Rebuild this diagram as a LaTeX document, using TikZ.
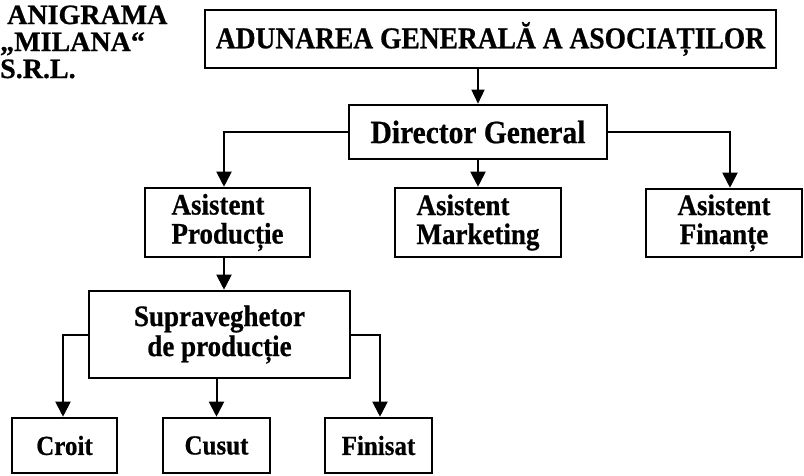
\documentclass[tikz,border=0pt]{standalone}
\usepackage{fontspec}
\usepackage{graphicx}
\setmainfont{Liberation Serif}[BoldFeatures={FakeBold=0.7}]
\usetikzlibrary{arrows.meta}
% slightly taller lettering
\newcommand{\tall}[1]{\scalebox{1}[1.1]{#1}}
\begin{document}
\begin{tikzpicture}[x=1pt,y=-1pt,
  box/.style={draw,line width=2.6pt,inner sep=0pt,font=\bfseries},
  arr/.style={line width=2pt,-{Triangle[length=15pt,width=15pt]}},
  thinarr/.style={line width=1.5pt,-{Triangle[length=14pt,width=13pt]}},
  title/.style={anchor=base west,inner sep=0pt,font=\fontsize{28}{30}\selectfont\bfseries}]
\useasboundingbox (0,0) rectangle (804,475);

% company heading
\node[title] (t1) at (7,24) {ANIGRAMA};
\node[title] (t2) at (0,51) {„MILANA“};
\node[title] (t3) at (0,78) {S.R.L.};

% boxes
\node[box,minimum width=571pt,minimum height=58pt,font=\fontsize{27.5}{29}\selectfont\bfseries]
  (aga) at (490.5,39) {\tall{ADUNAREA GENERALĂ A ASOCIAȚILOR}};
\node[box,minimum width=258pt,minimum height=54pt,font=\fontsize{29.5}{31}\selectfont\bfseries]
  (dir) at (478,132) {\tall{Director General}};
\node[box,minimum width=165pt,minimum height=69pt,align=left,font=\fontsize{27}{29}\selectfont\bfseries]
  (prod) at (227.5,222.5) {\tall{Asistent}\\\tall{Producție}};
\node[box,minimum width=166pt,minimum height=69pt,align=left,font=\fontsize{27}{29}\selectfont\bfseries]
  (mkt) at (478,222.5) {\tall{Asistent}\\\tall{Marketing}};
\node[box,minimum width=156pt,minimum height=68pt,align=center,font=\fontsize{27}{29}\selectfont\bfseries]
  (fin) at (724,223) {\tall{Asistent}\\\tall{Finanțe}};
\node[box,minimum width=261pt,minimum height=87pt,align=center,font=\fontsize{27}{30}\selectfont\bfseries]
  (sup) at (219.5,334.5) {\tall{Supraveghetor}\\\tall{de producție}};
\node[box,minimum width=105pt,minimum height=55pt,font=\fontsize{25}{26}\selectfont\bfseries]
  (croit) at (64.5,445.5) {\tall{Croit}};
\node[box,minimum width=107pt,minimum height=55pt,font=\fontsize{25}{26}\selectfont\bfseries]
  (cusut) at (216.5,445.5) {\tall{Cusut}};
\node[box,minimum width=107pt,minimum height=55pt,font=\fontsize{25}{26}\selectfont\bfseries]
  (finis) at (378.5,445.5) {\tall{Finisat}};

% connectors
\draw[thinarr] (dir.north |- aga.south) -- (dir.north);
\draw[arr] (dir.west) -| ([xshift=-3.5pt]prod.north);
\draw[arr] (dir.south) -- (mkt.north);
\draw[arr] (dir.east) -| ([xshift=6pt]fin.north);
\draw[arr] ([xshift=-3.5pt]prod.south) -- ([xshift=-3.5pt]prod.south |- sup.north);
\draw[arr] (sup.west) -| ([xshift=-1.5pt]croit.north);
\draw[arr] (cusut.north |- sup.south) -- (cusut.north);
\draw[arr] (sup.east) -| ([xshift=1.5pt]finis.north);
\end{tikzpicture}
\end{document}
